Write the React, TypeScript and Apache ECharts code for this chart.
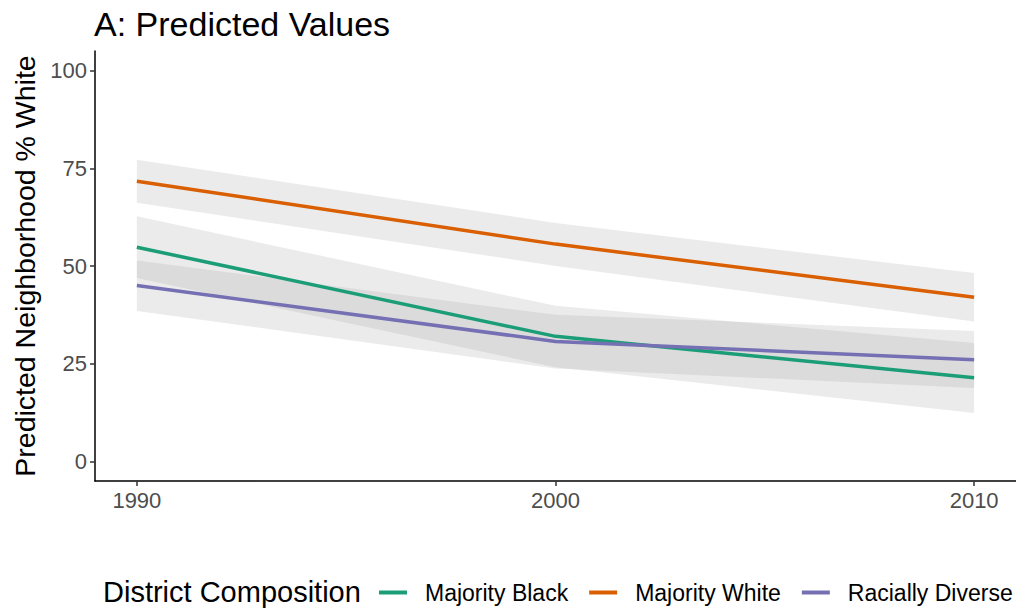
import React, { useEffect, useRef } from "react";
import * as echarts from "echarts";

const years = [1990, 2000, 2010];
const yTicks = [0, 25, 50, 75, 100];

const seriesNames = ["Majority Black", "Majority White", "Racially Diverse"];
const seriesColors = ["#1B9E77", "#D95F02", "#7570B3"];

const blackMean = [54.8, 32.0, 21.4];
const blackLower = [46.9, 24.1, 12.4];
const blackUpper = [62.7, 39.8, 30.3];

const whiteMean = [71.7, 55.6, 42.0];
const whiteLower = [66.2, 50.0, 35.8];
const whiteUpper = [77.2, 61.0, 48.2];

const diverseMean = [45.0, 30.7, 26.0];
const diverseLower = [38.5, 23.8, 18.8];
const diverseUpper = [51.4, 37.5, 33.4];

const FONT = "'Liberation Sans', Arial, Helvetica, sans-serif";

function bandSeries(lower: number[], upper: number[]) {
  return {
    type: "custom",
    silent: true,
    clip: true,
    z: 1,
    data: [[years[0], lower[0]]],
    renderItem: (_params: any, api: any) => {
      const pts: number[][] = [];
      for (let i = 0; i < years.length; i++) pts.push(api.coord([years[i], upper[i]]));
      for (let i = years.length - 1; i >= 0; i--) pts.push(api.coord([years[i], lower[i]]));
      return {
        type: "polygon",
        shape: { points: pts },
        style: { fill: "#999999", opacity: 0.2 },
      };
    },
  };
}

function lineSeries(name: string, color: string, values: number[]) {
  return {
    type: "line",
    name,
    z: 3,
    symbol: "none",
    color,
    lineStyle: { color, width: 3.5 },
    data: years.map((y, i) => [y, values[i]]),
  };
}

export default function App() {
  const ref = useRef<HTMLDivElement>(null);
  useEffect(() => {
    if (!ref.current) return;
    const chart = echarts.init(ref.current, undefined, { renderer: "svg" });
    const option: any = {
      animation: false,
      backgroundColor: "#ffffff",
      textStyle: { fontFamily: FONT },
      title: {
        text: "A: Predicted Values",
        left: 89,
        top: 2,
        textStyle: { fontSize: 34, fontWeight: "normal", color: "#000", fontFamily: FONT },
      },
      grid: { left: 95, top: 51, width: 922, height: 430, containLabel: false },
      xAxis: {
        type: "value",
        min: 1989,
        max: 2011,
        axisLine: { show: true, onZero: false, lineStyle: { color: "#000", width: 1.5 } },
        axisTick: { show: true, customValues: years, length: 5, lineStyle: { color: "#333", width: 1.5 } },
        axisLabel: {
          customValues: years,
          fontSize: 22,
          color: "#4d4d4d",
          margin: 8,
          fontFamily: FONT,
          formatter: (v: number) => String(v),
        },
        splitLine: { show: false },
      },
      yAxis: {
        type: "value",
        min: -5,
        max: 105,
        name: "Predicted Neighborhood % White",
        nameLocation: "middle",
        nameGap: 51,
        nameTextStyle: { fontSize: 28.5, color: "#000", fontFamily: FONT },
        axisLine: { show: true, onZero: false, lineStyle: { color: "#000", width: 1.5 } },
        axisTick: { show: true, customValues: yTicks, length: 5, lineStyle: { color: "#333", width: 1.5 } },
        axisLabel: { customValues: yTicks, fontSize: 22, color: "#4d4d4d", margin: 8, fontFamily: FONT },
        splitLine: { show: false },
      },
      legend: {
        data: seriesNames,
        left: 379,
        top: 581,
        width: 700,
        padding: 0,
        icon: "rect",
        itemWidth: 28,
        itemHeight: 4,
        itemGap: 21,
        selectedMode: false,
        textStyle: { fontSize: 23, color: "#000", fontFamily: FONT, padding: [0, 0, 0, 13] },
      },
      graphic: [
        {
          type: "text",
          left: 103,
          top: 577,
          style: { text: "District Composition", fontSize: 29, fill: "#000", fontFamily: FONT },
        },
      ],
      series: [
        bandSeries(blackLower, blackUpper),
        bandSeries(whiteLower, whiteUpper),
        bandSeries(diverseLower, diverseUpper),
        lineSeries(seriesNames[0], seriesColors[0], blackMean),
        lineSeries(seriesNames[1], seriesColors[1], whiteMean),
        lineSeries(seriesNames[2], seriesColors[2], diverseMean),
      ],
    };
    chart.setOption(option);
    return () => chart.dispose();
  }, []);
  return (
    <div
      ref={ref}
      style={{ position: "fixed", left: 0, top: 0, width: 1016, height: 611, background: "#fff" }}
    />
  );
}
